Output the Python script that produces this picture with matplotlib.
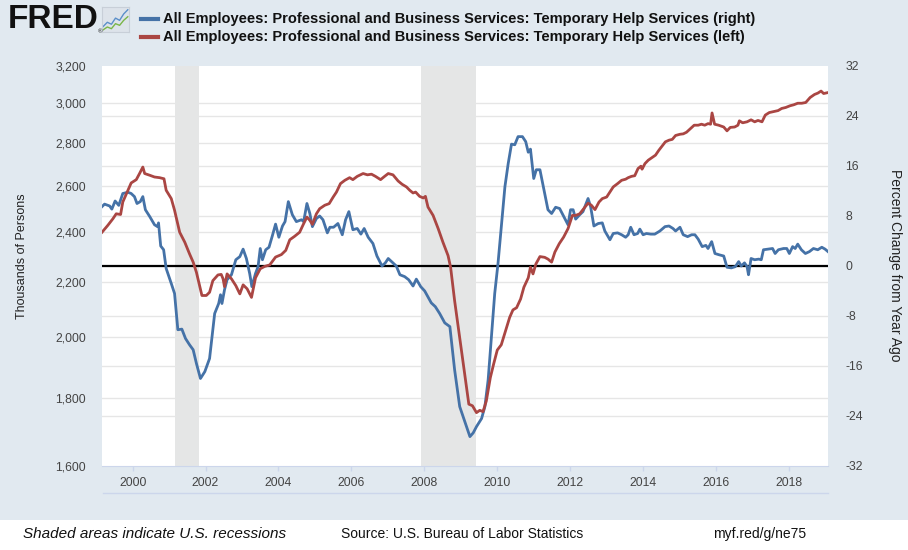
import matplotlib
matplotlib.use('Agg')
import matplotlib.pyplot as plt
from matplotlib.patches import Rectangle
from matplotlib.lines import Line2D
import matplotlib.transforms as mtransforms
from matplotlib.ticker import FixedLocator, NullLocator

plt.rcParams['font.family'] = ['Liberation Sans', 'DejaVu Sans']

# ---------------- data (decimal years) ----------------
blue_t = [1999.16, 1999.23, 1999.37, 1999.43, 1999.52, 1999.62, 1999.73, 1999.87, 1999.96,
          2000.05, 2000.12, 2000.21, 2000.28, 2000.35, 2000.47, 2000.60, 2000.68, 2000.71,
          2000.77, 2000.85, 2000.92, 2001.06, 2001.15, 2001.24, 2001.35, 2001.45, 2001.56,
          2001.66, 2001.75, 2001.86, 2001.98, 2002.11, 2002.25, 2002.36, 2002.41, 2002.45,
          2002.52, 2002.59, 2002.71, 2002.83, 2002.94, 2003.03, 2003.12, 2003.21, 2003.27,
          2003.37, 2003.44, 2003.50, 2003.56, 2003.65, 2003.74, 2003.83, 2003.92, 2004.01,
          2004.11, 2004.18, 2004.27, 2004.38, 2004.49, 2004.63, 2004.69, 2004.78, 2004.86,
          2004.93, 2005.04, 2005.13, 2005.22, 2005.34, 2005.41, 2005.51, 2005.63, 2005.75,
          2005.84, 2005.93, 2006.04, 2006.16, 2006.26, 2006.35, 2006.46, 2006.59, 2006.70,
          2006.84, 2006.93, 2007.01, 2007.14, 2007.23, 2007.33, 2007.46, 2007.57, 2007.69,
          2007.78, 2007.90, 2008.01, 2008.19, 2008.30, 2008.42, 2008.56, 2008.70, 2008.83,
          2008.97, 2009.11, 2009.25, 2009.34, 2009.43, 2009.57, 2009.66, 2009.75, 2009.84,
          2009.93, 2010.02, 2010.11, 2010.21, 2010.30, 2010.39, 2010.48, 2010.57, 2010.69,
          2010.78, 2010.85, 2010.91, 2011.00, 2011.07, 2011.17, 2011.28, 2011.39, 2011.49,
          2011.60, 2011.71, 2011.85, 2011.94, 2012.01, 2012.08, 2012.15, 2012.26, 2012.35,
          2012.49, 2012.56, 2012.65, 2012.77, 2012.88, 2012.95, 2013.09, 2013.18, 2013.30,
          2013.41, 2013.52, 2013.59, 2013.66, 2013.75, 2013.85, 2013.91, 2014.00, 2014.09,
          2014.21, 2014.32, 2014.46, 2014.60, 2014.71, 2014.82, 2014.89, 2015.01, 2015.10,
          2015.22, 2015.33, 2015.42, 2015.51, 2015.62, 2015.72, 2015.78, 2015.88, 2015.97,
          2016.08, 2016.21, 2016.30, 2016.42, 2016.53, 2016.62, 2016.69, 2016.78, 2016.85,
          2016.89, 2016.96, 2017.06, 2017.17, 2017.24, 2017.30, 2017.42, 2017.55, 2017.62,
          2017.71, 2017.85, 2017.94, 2018.01, 2018.10, 2018.17, 2018.24, 2018.34, 2018.45,
          2018.56, 2018.67, 2018.79, 2018.90, 2018.99, 2019.07]
blue_pct = [9.5, 9.9, 9.6, 9.1, 10.4, 9.7, 11.6, 11.8, 11.6,
            11.1, 10.0, 10.3, 11.1, 9.0, 7.9, 6.6, 6.3, 6.9,
            3.2, 2.6, -0.4, -2.8, -4.4, -10.2, -10.1, -11.6, -12.6,
            -13.4, -15.6, -18.0, -16.9, -14.8, -7.6, -6.0, -4.6, -6.0,
            -3.8, -2.2, -1.4, 1.0, 1.5, 2.7, 1.2, -1.2, -3.3,
            -1.2, -0.1, 2.8, 1.0, 2.6, 3.0, 4.8, 6.7, 4.6,
            6.4, 7.1, 10.3, 8.2, 7.1, 7.4, 7.1, 10.0, 8.4,
            6.3, 7.6, 8.0, 7.4, 5.3, 6.2, 6.2, 6.8, 5.0,
            7.4, 8.7, 5.8, 6.0, 5.1, 6.0, 4.6, 3.6, 1.6,
            0.0, 0.5, 1.2, 0.5, 0.0, -1.4, -1.7, -2.2, -3.2,
            -2.1, -3.3, -4.0, -5.9, -6.5, -7.6, -9.1, -9.7, -16.6,
            -22.5, -24.9, -27.3, -26.7, -25.7, -24.4, -22.5, -18.2, -11.3,
            -4.4, 0.4, 6.3, 12.7, 16.4, 19.5, 19.4, 20.7, 20.7,
            19.9, 18.2, 18.7, 14.0, 15.4, 15.4, 12.2, 9.0, 8.4,
            9.4, 9.2, 7.6, 6.6, 9.0, 9.0, 7.5, 8.2, 8.7,
            10.8, 9.5, 6.4, 6.8, 6.9, 5.6, 4.2, 5.2, 5.3,
            5.0, 4.6, 5.0, 6.2, 5.0, 5.2, 5.9, 5.0, 5.2,
            5.1, 5.1, 5.6, 6.3, 6.4, 6.0, 5.6, 6.2, 5.0,
            4.7, 5.0, 5.0, 4.3, 3.1, 3.3, 2.8, 3.9, 2.0,
            1.8, 1.6, -0.2, -0.3, -0.1, 0.7, 0.0, 0.5, -0.1,
            -1.4, 1.2, 1.0, 1.1, 1.0, 2.6, 2.7, 2.8, 2.0,
            2.6, 2.8, 2.8, 2.0, 3.1, 2.8, 3.5, 2.6, 2.0,
            2.3, 2.8, 2.6, 3.0, 2.7, 2.3]

red_t = [1999.16, 1999.32, 1999.46, 1999.55, 1999.67, 1999.73, 1999.83, 1999.96, 2000.10,
         2000.19, 2000.28, 2000.33, 2000.47, 2000.60, 2000.74, 2000.86, 2000.92, 2001.06,
         2001.15, 2001.29, 2001.43, 2001.56, 2001.66, 2001.75, 2001.90, 2002.02, 2002.11,
         2002.20, 2002.34, 2002.43, 2002.48, 2002.52, 2002.59, 2002.71, 2002.83, 2002.94,
         2003.03, 2003.14, 2003.26, 2003.37, 2003.50, 2003.62, 2003.76, 2003.92, 2004.08,
         2004.20, 2004.31, 2004.44, 2004.58, 2004.69, 2004.78, 2004.86, 2004.93, 2005.04,
         2005.13, 2005.27, 2005.39, 2005.50, 2005.59, 2005.70, 2005.82, 2005.95, 2006.04,
         2006.16, 2006.32, 2006.44, 2006.55, 2006.66, 2006.80, 2006.91, 2007.01, 2007.14,
         2007.28, 2007.39, 2007.51, 2007.60, 2007.69, 2007.76, 2007.87, 2007.97, 2008.03,
         2008.10, 2008.24, 2008.38, 2008.51, 2008.65, 2008.72, 2008.83, 2008.97, 2009.11,
         2009.22, 2009.32, 2009.43, 2009.52, 2009.61, 2009.70, 2009.81, 2009.90, 2010.00,
         2010.11, 2010.23, 2010.34, 2010.43, 2010.53, 2010.64, 2010.73, 2010.85, 2010.91,
         2010.98, 2011.06, 2011.17, 2011.30, 2011.39, 2011.49, 2011.58, 2011.70, 2011.82,
         2011.94, 2012.06, 2012.15, 2012.26, 2012.37, 2012.49, 2012.58, 2012.68, 2012.79,
         2012.88, 2013.00, 2013.09, 2013.18, 2013.30, 2013.41, 2013.52, 2013.59, 2013.68,
         2013.77, 2013.86, 2013.94, 2013.97, 2014.05, 2014.14, 2014.25, 2014.34, 2014.43,
         2014.52, 2014.61, 2014.71, 2014.80, 2014.89, 2015.01, 2015.10, 2015.19, 2015.28,
         2015.40, 2015.51, 2015.60, 2015.69, 2015.78, 2015.85, 2015.89, 2015.96, 2016.07,
         2016.21, 2016.30, 2016.39, 2016.51, 2016.60, 2016.64, 2016.73, 2016.85, 2016.96,
         2017.06, 2017.15, 2017.26, 2017.35, 2017.46, 2017.58, 2017.70, 2017.80, 2017.91,
         2018.03, 2018.13, 2018.24, 2018.35, 2018.46, 2018.58, 2018.70, 2018.79, 2018.88,
         2018.95, 2019.07]
red_level = [2399, 2428, 2456, 2477, 2474, 2528, 2565, 2613, 2628,
             2656, 2686, 2656, 2648, 2640, 2637, 2632, 2580, 2543,
             2492, 2399, 2358, 2311, 2278, 2238, 2150, 2150, 2162,
             2206, 2228, 2230, 2213, 2183, 2232, 2213, 2187, 2156,
             2190, 2175, 2143, 2217, 2252, 2261, 2267, 2298, 2308,
             2325, 2368, 2382, 2399, 2435, 2463, 2449, 2432, 2477,
             2499, 2514, 2521, 2550, 2572, 2610, 2625, 2637, 2628,
             2643, 2656, 2650, 2653, 2643, 2628, 2643, 2656, 2650,
             2622, 2607, 2595, 2580, 2568, 2572, 2553, 2546, 2553,
             2506, 2470, 2414, 2358, 2304, 2258, 2131, 1999, 1876,
             1781, 1776, 1755, 1762, 1758, 1791, 1865, 1909, 1956,
             1974, 2023, 2070, 2097, 2105, 2137, 2181, 2217, 2258,
             2232, 2271, 2300, 2297, 2290, 2278, 2318, 2352, 2379,
             2414, 2470, 2470, 2477, 2499, 2523, 2514, 2495, 2528,
             2543, 2550, 2572, 2595, 2610, 2625, 2630, 2637, 2643,
             2646, 2679, 2690, 2676, 2702, 2718, 2731, 2742, 2765,
             2785, 2806, 2814, 2818, 2837, 2843, 2845, 2853, 2868,
             2888, 2888, 2893, 2888, 2896, 2893, 2950, 2893, 2888,
             2879, 2860, 2877, 2879, 2888, 2910, 2900, 2905, 2915,
             2905, 2912, 2905, 2939, 2952, 2957, 2962, 2973, 2978,
             2987, 2992, 3000, 3000, 3004, 3030, 3046, 3053, 3064,
             3051, 3056]

recessions = [(2001.17, 2001.83), (2007.92, 2009.42)]
x_ticks = [2000, 2002, 2004, 2006, 2008, 2010, 2012, 2014, 2016, 2018]
left_ticks = [1600, 1800, 2000, 2200, 2400, 2600, 2800, 3000, 3200]
right_ticks = [-32, -24, -16, -8, 0, 8, 16, 24, 32]

title_blue = 'All Employees: Professional and Business Services: Temporary Help Services (right)'
title_red = 'All Employees: Professional and Business Services: Temporary Help Services (left)'

icon_x = [0, 1, 2, 3, 4, 5, 6]
icon_blue = [2.0, 3.5, 2.8, 5.0, 4.2, 6.5, 8.0]
icon_green = [0.8, 1.8, 1.2, 3.0, 2.4, 4.2, 5.5]

# ---------------- styling ----------------
W, H = 908, 550
BG = '#e1e9f0'
BLUE = '#4572a7'
RED = '#aa4643'
GRID = '#e6e6e6'
TICKC = '#444444'


def fx(px):
    return px / W


def fy(py):
    return 1 - py / H


fig = plt.figure(figsize=(W / 100, H / 100), dpi=100)
fig.patch.set_facecolor(BG)
fig.add_artist(Rectangle((0, 0), 1, fy(520), transform=fig.transFigure,
                         facecolor='white', edgecolor='none', zorder=0))
fig.add_artist(Line2D([fx(103), fx(828)], [fy(493), fy(493)], transform=fig.transFigure,
                      color='#ccd6eb', lw=1))

ax = fig.add_axes([fx(102), fy(466), fx(828) - fx(102), fy(66) - fy(466)])
ax.set_facecolor('white')
ax2 = ax.twinx()
ax.yaxis.tick_right()
ax2.yaxis.tick_left()

ax.set_xlim(blue_t[0], blue_t[-1])
ax.set_ylim(-32, 32)
ax2.set_yscale('log')
ax2.set_ylim(1600, 3200)

# gridlines (all on bottom axes)
for v in right_ticks[1:-1]:
    ax.axhline(v, color=GRID, lw=1, zorder=0.5)
trans = mtransforms.blended_transform_factory(ax.transAxes, ax2.transData)
for v in left_ticks[1:-1]:
    ax.plot([0, 1], [v, v], transform=trans, color=GRID, lw=1, zorder=0.5)

for a, b in recessions:
    ax.axvspan(a, b, color='#e5e6e6', lw=0, zorder=0.8)

ax.axhline(0, color='black', lw=1.6, zorder=2)
ax.plot(blue_t, blue_pct, color=BLUE, lw=2.0, zorder=3, solid_joinstyle='round')
ax2.plot(red_t, red_level, color=RED, lw=2.0, zorder=3, solid_joinstyle='round')

# ticks
ax.set_xticks(x_ticks)
ax.set_xticklabels([str(x) for x in x_ticks])
ax.tick_params(axis='x', length=3.6, width=1, color='#ccd6eb', labelcolor=TICKC,
               labelsize=8.8, pad=4)
ax.set_yticks(right_ticks)
ax.set_yticklabels([str(v) for v in right_ticks])
ax.tick_params(axis='y', length=0, labelcolor=TICKC, labelsize=8.8, pad=12.5)
ax2.yaxis.set_major_locator(FixedLocator(left_ticks))
ax2.yaxis.set_minor_locator(NullLocator())
ax2.set_yticklabels([f'{v:,}' for v in left_ticks])
ax2.tick_params(axis='y', which='both', length=0, labelcolor=TICKC, labelsize=8.8, pad=11.5)

for a in (ax, ax2):
    for s in a.spines.values():
        s.set_visible(False)
ax.spines['bottom'].set_visible(True)
ax.spines['bottom'].set_color('#ccd6eb')

# axis titles
fig.text(fx(22), fy(256), 'Thousands of Persons', rotation=90, ha='center', va='center',
         fontsize=9, color='#222222')
fig.text(fx(895), fy(265), 'Percent Change from Year Ago', rotation=-90, ha='center',
         va='center', fontsize=10, color='#222222')

# header
fig.text(fx(8), fy(20), 'FRED', fontsize=24, fontweight='bold', va='center', color='#111111')
fig.text(fx(97.5), fy(32), '\u00ae', fontsize=4.5, va='center', color='#111111')
iax = fig.add_axes([fx(102), fy(32), 27 / W, 25 / H])
iax.set_facecolor('#dde3ea')
iax.plot(icon_x, icon_blue, color='#5b8fc9', lw=1)
iax.plot(icon_x, icon_green, color='#7ab648', lw=1)
iax.set_xlim(-0.3, 6.3)
iax.set_ylim(0, 9)
iax.set_xticks([])
iax.set_yticks([])
for s in iax.spines.values():
    s.set_color('#c8cfd8')

fig.add_artist(Line2D([fx(141), fx(158)], [fy(19), fy(19)], transform=fig.transFigure,
                      color=BLUE, lw=3))
fig.add_artist(Line2D([fx(141), fx(158)], [fy(37), fy(37)], transform=fig.transFigure,
                      color=RED, lw=3))
fig.text(fx(163), fy(19), title_blue, fontsize=10.5, fontweight='bold', va='center', color='#111111')
fig.text(fx(163), fy(37), title_red, fontsize=10.5, fontweight='bold', va='center', color='#111111')

# footer
fig.text(fx(23), fy(534), 'Shaded areas indicate U.S. recessions', style='italic',
         fontsize=11, va='center', color='#111111')
fig.text(fx(341), fy(534), 'Source: U.S. Bureau of Labor Statistics', fontsize=10,
         va='center', color='#111111')
fig.text(fx(713), fy(534), 'myf.red/g/ne75', fontsize=10, va='center', color='#111111')

fig.savefig('out.png', dpi=100, facecolor=fig.get_facecolor())
